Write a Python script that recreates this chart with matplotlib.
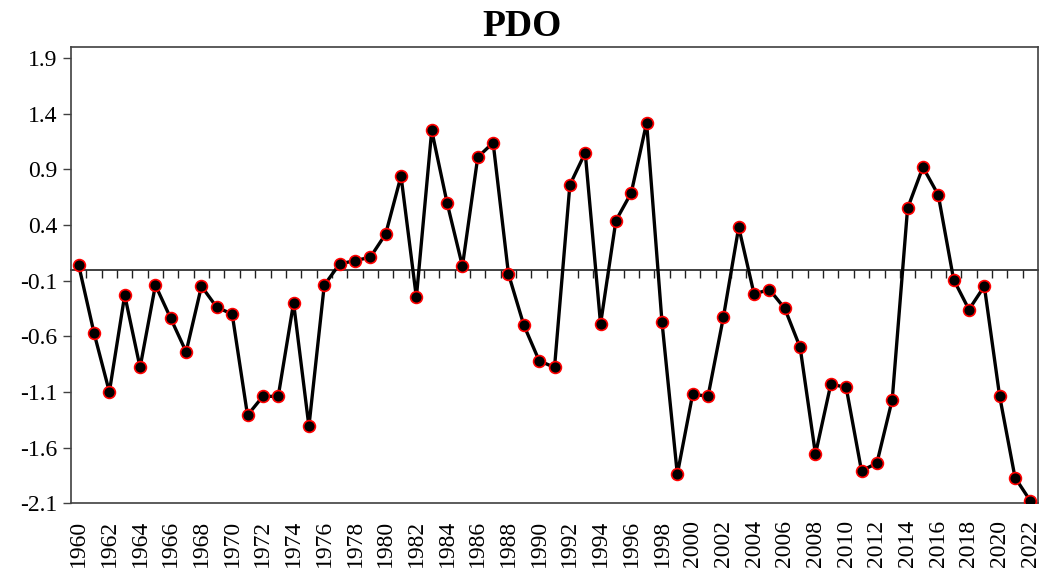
import matplotlib
matplotlib.use("Agg")
import matplotlib.pyplot as plt
import numpy as np

plt.rcParams['font.family'] = ['Liberation Serif', 'DejaVu Serif']
plt.rcParams['axes.unicode_minus'] = False

years = np.arange(1960, 2023)
pdo = [0.04, -0.57, -1.10, -0.23, -0.88, -0.14, -0.44, -0.74, -0.15, -0.34,
       -0.40, -1.31, -1.14, -1.14, -0.30, -1.41, -0.14, 0.05, 0.08, 0.11,
       0.32, 0.84, -0.25, 1.25, 0.60, 0.03, 1.01, 1.14, -0.04, -0.50,
       -0.82, -0.88, 0.76, 1.05, -0.49, 0.44, 0.69, 1.32, -0.47, -1.84,
       -1.12, -1.14, -0.43, 0.38, -0.22, -0.18, -0.35, -0.70, -1.66, -1.03,
       -1.06, -1.81, -1.74, -1.17, 0.55, 0.92, 0.67, -0.09, -0.36, -0.15,
       -1.14, -1.87, -2.08]
yticks = [-2.1, -1.6, -1.1, -0.6, -0.1, 0.4, 0.9, 1.4, 1.9]
ymin, ymax = -2.1, 2.0

fig = plt.figure(figsize=(10.44, 5.77), dpi=100)
ax = fig.add_axes([0.068, 0.128, 0.9263, 0.7905])

ax.plot(years, pdo, color='black', lw=2.4, marker='o', markersize=8.5,
        markerfacecolor='black', markeredgecolor='red', markeredgewidth=1.2,
        zorder=3)

ax.set_xlim(years[0] - 0.5, years[-1] + 0.5)
ax.set_ylim(ymin, ymax)

ax.set_yticks(yticks)
ax.set_yticklabels(['%.1f' % v for v in yticks])
ax.tick_params(axis='y', direction='out', length=6, width=1, color='#404040',
               labelsize=17, pad=4)

ax.set_xticks(years[::2])
ax.set_xticklabels([str(y) for y in years[::2]], rotation=90)
ax.tick_params(axis='x', length=0, labelsize=17, pad=12)

for s in ax.spines.values():
    s.set_color('#404040')
    s.set_linewidth(1.2)

# zero line with year tick marks (between categories)
zero_pos = (0 - ymin) / (ymax - ymin)
sec = ax.secondary_xaxis(zero_pos)
sec.set_xticks(years[:-1] + 0.5)
sec.set_xticklabels([])
sec.tick_params(direction='in', length=6, width=1, color='#202020')
for s in sec.spines.values():
    s.set_color('#202020')
    s.set_linewidth(1.2)

fig.text(0.5, 0.985, 'PDO', fontsize=27, fontweight='bold',
         ha='center', va='top')

fig.savefig('out.png', dpi=100)
